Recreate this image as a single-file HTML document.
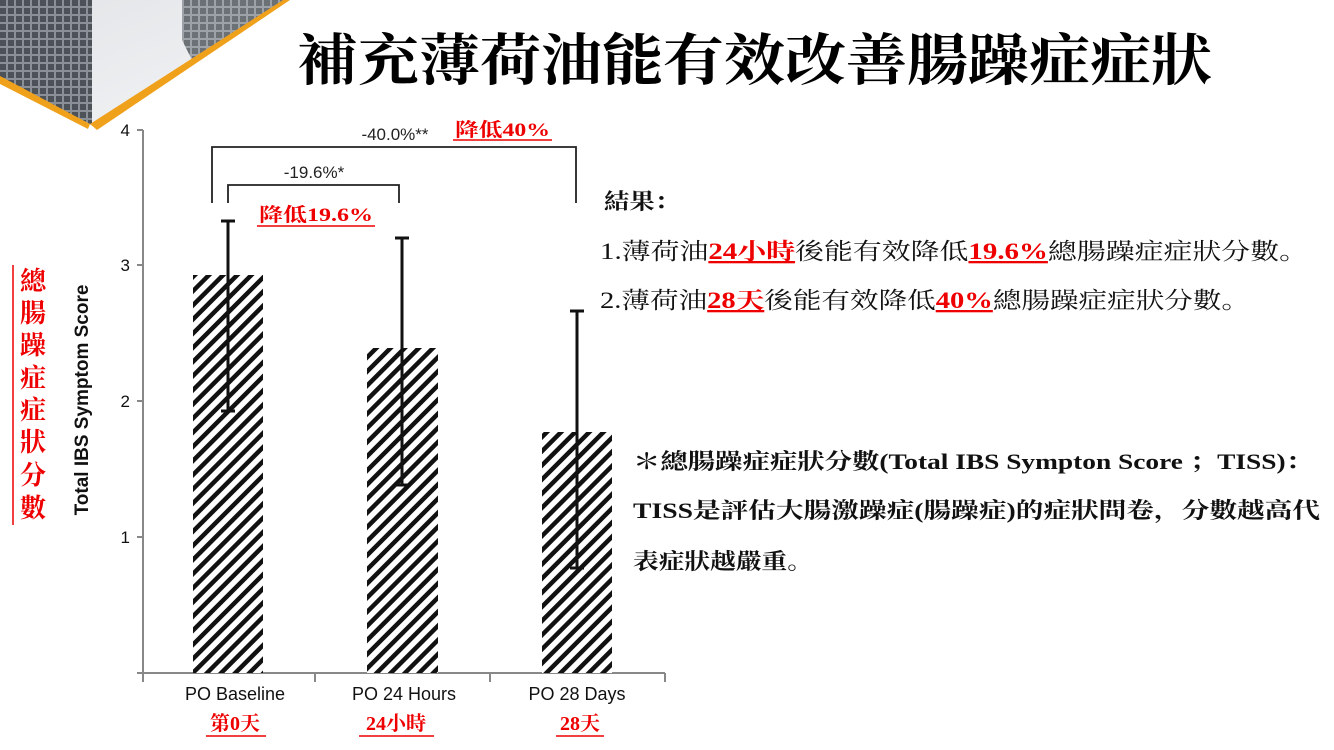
<!DOCTYPE html>
<html><head><meta charset="utf-8"><style>
html,body{margin:0;padding:0;background:#fff;}
svg{display:block;}
.cjk{font-family:"Liberation Serif","Noto Serif CJK SC",serif;}
.sans{font-family:"Liberation Sans","Noto Sans CJK TC",sans-serif;}
</style></head><body>
<svg width="1334" height="750" viewBox="0 0 1334 750" xmlns="http://www.w3.org/2000/svg">
<defs>
<pattern id="h" width="10" height="10" patternUnits="userSpaceOnUse" patternTransform="rotate(45)">
<rect width="10" height="10" fill="#fff"/><rect x="0" y="0" width="4.5" height="10" fill="#111"/>
</pattern>
<pattern id="g" width="8" height="8" patternUnits="userSpaceOnUse">
<rect width="8" height="8" fill="#8a9098"/><rect width="6" height="6" fill="#4c5258"/>
</pattern>
<linearGradient id="sky" x1="0" y1="0" x2="1" y2="1"><stop offset="0" stop-color="#e2e4e7"/><stop offset="1" stop-color="#f3f4f6"/></linearGradient>
</defs>
<!-- top-left photo -->
<polygon points="0,0 285,0 90,125 0,78" fill="url(#sky)"/>
<polygon points="0,0 92,0 92,125 0,78" fill="url(#g)"/>
<polygon points="182,0 285,0 192,60 182,40" fill="url(#g)" opacity="0.8"/>
<polygon points="0,76 90,124 88,129 0,84" fill="#f0a11c"/>
<polygon points="90,124 283,0 290,0 97,130" fill="#f0a11c"/>
<!-- title -->
<text x="297" y="80" textLength="915" lengthAdjust="spacingAndGlyphs" class="cjk" font-size="56" font-weight="bold" fill="#000">補充薄荷油能有效改善腸躁症症狀</text>
<!-- axes -->
<g stroke="#888" stroke-width="2" fill="none">
<line x1="143" y1="130" x2="143" y2="673"/>
<line x1="137" y1="130" x2="143" y2="130"/>
<line x1="137" y1="265" x2="143" y2="265"/>
<line x1="137" y1="401" x2="143" y2="401"/>
<line x1="137" y1="537" x2="143" y2="537"/>
<line x1="137" y1="673" x2="665" y2="673"/>
<line x1="143" y1="673" x2="143" y2="682"/>
<line x1="315" y1="673" x2="315" y2="682"/>
<line x1="490" y1="673" x2="490" y2="682"/>
<line x1="665" y1="673" x2="665" y2="682"/>
</g>
<g class="sans" font-size="17" fill="#111" text-anchor="end">
<text x="130" y="136">4</text><text x="130" y="271">3</text><text x="130" y="407">2</text><text x="130" y="543">1</text>
</g>
<text transform="translate(88,400) rotate(-90)" text-anchor="middle" class="sans" font-size="19" font-weight="bold" fill="#111">Total IBS Symptom Score</text>
<!-- red vertical label -->
<line x1="13" y1="265" x2="13" y2="525" stroke="#e00" stroke-width="1.5"/>
<g class="cjk" font-size="26" font-weight="bold" fill="#e00" text-anchor="middle">
<text x="33" y="290">總</text><text x="33" y="322">腸</text><text x="33" y="354">躁</text><text x="33" y="387">症</text><text x="33" y="419">症</text><text x="33" y="451">狀</text><text x="33" y="484">分</text><text x="33" y="517">數</text>
</g>
<!-- bars -->
<rect x="193" y="275" width="70" height="398" fill="url(#h)"/>
<rect x="367" y="348" width="71" height="325" fill="url(#h)"/>
<rect x="542" y="432" width="70" height="241" fill="url(#h)"/>
<!-- error bars -->
<g stroke="#111" stroke-width="3">
<line x1="228" y1="221" x2="228" y2="411"/><line x1="221" y1="221" x2="235" y2="221"/><line x1="221" y1="411" x2="235" y2="411"/>
<line x1="402" y1="238" x2="402" y2="485"/><line x1="395" y1="238" x2="409" y2="238"/><line x1="395" y1="485" x2="409" y2="485"/>
<line x1="577" y1="311" x2="577" y2="568"/><line x1="570" y1="311" x2="584" y2="311"/><line x1="570" y1="568" x2="584" y2="568"/>
</g>
<!-- brackets -->
<g stroke="#222" stroke-width="1.8" fill="none">
<polyline points="212,203 212,147 576,147 576,203"/>
<polyline points="228,203 228,185 399,185 399,203"/>
</g>
<g class="sans" font-size="17" fill="#222" text-anchor="middle">
<text x="395" y="140">-40.0%**</text>
<text x="314" y="178">-19.6%*</text>
</g>
<g class="cjk" font-size="19" font-weight="bold" fill="#e00">
<text x="455" y="136" textLength="95" lengthAdjust="spacingAndGlyphs">降低40%</text>
<text x="259" y="221" textLength="114" lengthAdjust="spacingAndGlyphs">降低19.6%</text>
</g>
<line x1="453" y1="140" x2="552" y2="140" stroke="#e00" stroke-width="1.5"/>
<line x1="257" y1="226" x2="375" y2="226" stroke="#e00" stroke-width="1.5"/>
<!-- x labels -->
<g class="sans" font-size="18" fill="#111" text-anchor="middle">
<text x="235" y="700">PO Baseline</text><text x="404" y="700">PO 24 Hours</text><text x="577" y="700">PO 28 Days</text>
</g>
<g class="cjk" font-size="20" font-weight="bold" fill="#e00" text-anchor="middle">
<text x="235" y="730">第0天</text><text x="396" y="730">24小時</text><text x="580" y="730">28天</text>
</g>
<g stroke="#e00" stroke-width="1.5">
<line x1="206" y1="736" x2="266" y2="736"/><line x1="359" y1="736" x2="434" y2="736"/><line x1="556" y1="736" x2="604" y2="736"/>
</g>
<!-- results text -->
<text x="604" y="209" class="cjk" font-size="22" font-weight="bold" fill="#111" textLength="76" lengthAdjust="spacingAndGlyphs">結果：</text>
<text x="600" y="259" class="cjk" font-size="23" fill="#111" textLength="708" lengthAdjust="spacingAndGlyphs">1.薄荷油<tspan fill="#e00" font-weight="bold" text-decoration="underline">24小時</tspan>後能有效降低<tspan fill="#e00" font-weight="bold" text-decoration="underline">19.6%</tspan>總腸躁症症狀分數。</text>
<text x="600" y="308" class="cjk" font-size="23" fill="#111" textLength="650" lengthAdjust="spacingAndGlyphs">2.薄荷油<tspan fill="#e00" font-weight="bold" text-decoration="underline">28天</tspan>後能有效降低<tspan fill="#e00" font-weight="bold" text-decoration="underline">40%</tspan>總腸躁症症狀分數。</text>
<g class="cjk" font-size="22" font-weight="bold" fill="#111" lengthAdjust="spacingAndGlyphs">
<text x="633" y="469" textLength="680" lengthAdjust="spacingAndGlyphs">＊總腸躁症症狀分數(Total IBS Sympton Score ；TISS)：</text>
<text x="633" y="518" textLength="687" lengthAdjust="spacingAndGlyphs">TISS是評估大腸激躁症(腸躁症)的症狀問卷，分數越高代</text>
<text x="633" y="569" textLength="180" lengthAdjust="spacingAndGlyphs">表症狀越嚴重。</text>
</g>
</svg>
</body></html>
